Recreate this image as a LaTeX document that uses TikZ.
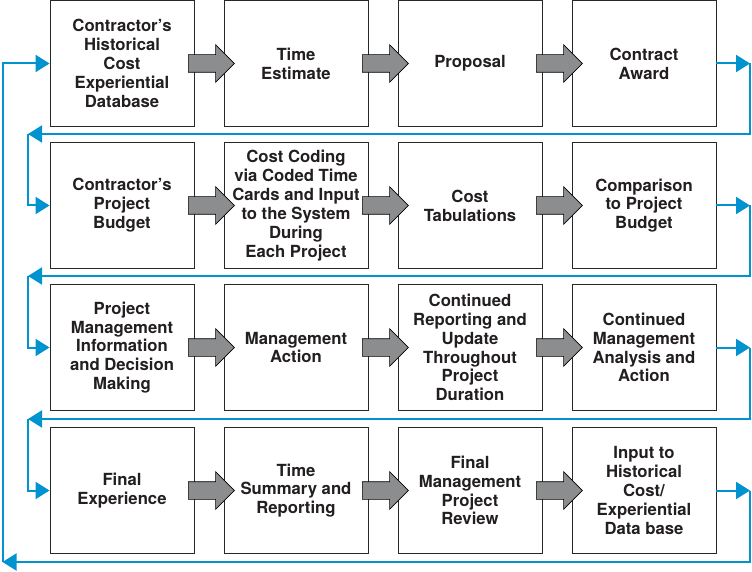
\documentclass[tikz,border=0pt]{standalone}
\usepackage{fontspec}
\setmainfont{TeX Gyre Heros}
\usetikzlibrary{arrows.meta,shapes.arrows,calc}
\definecolor{flowblue}{RGB}{0,147,208}
\definecolor{arrgray}{RGB}{140,141,143}
\definecolor{txt}{RGB}{35,31,32}
\definecolor{boxline}{RGB}{40,40,40}
\begin{document}
\begin{tikzpicture}[x=1pt,y=-1pt,
  stepbox/.style={draw=boxline, line width=0.9pt, fill=white, minimum width=144pt,
    minimum height=126pt, inner sep=0pt, align=center, text=txt,
    font=\fontsize{16.7}{18.9}\selectfont\bfseries},
  blockarr/.style={single arrow, draw=black, line width=0.6pt, fill=arrgray,
    minimum height=46pt, minimum width=37pt, single arrow head extend=10pt,
    single arrow tip angle=90, inner xsep=0pt, inner ysep=8.5pt},
  flow/.style={draw=flowblue, line width=2pt, -{Triangle[length=14pt,width=17pt]}}]
\useasboundingbox (0,0) rectangle (752,572);
% row 1
\node[stepbox] (a1) at (122,63.5) {Contractor’s\\Historical\\Cost\\Experiential\\Database};
\node[stepbox] (a2) at (296,63.5) {Time\\Estimate};
\node[stepbox] (a3) at (470,63.5) {Proposal};
\node[stepbox] (a4) at (644,63.5) {Contract\\Award};
% row 2
\node[stepbox] (b1) at (122,205.5) {Contractor’s\\Project\\Budget};
\node[stepbox] (b2) at (296,205.5) {Cost Coding\\via Coded Time\\Cards and Input\\to the System\\During\\Each Project};
\node[stepbox] (b3) at (470,205.5) {Cost\\Tabulations};
\node[stepbox] (b4) at (644,205.5) {Comparison\\to Project\\Budget};
% row 3
\node[stepbox] (c1) at (122,347.5) {Project\\Management\\Information\\and Decision\\Making};
\node[stepbox] (c2) at (296,347.5) {Management\\Action};
\node[stepbox] (c3) at (470,347.5) {Continued\\Reporting and\\Update\\Throughout\\Project\\Duration};
\node[stepbox] (c4) at (644,347.5) {Continued\\Management\\Analysis and\\Action};
% row 4
\node[stepbox] (d1) at (122,490.5) {Final\\Experience};
\node[stepbox] (d2) at (296,490.5) {Time\\Summary and\\Reporting};
\node[stepbox] (d3) at (470,490.5) {Final\\Management\\Project\\Review};
\node[stepbox] (d4) at (644,490.5) {Input to\\Historical\\Cost/\\Experiential\\Data base};
% block arrows
\foreach \r in {a,b,c,d}{
  \node[blockarr] (\r12) at ($(\r1.east)!0.5!(\r2.west)+(-2,0)$) {};
  \node[blockarr] (\r23) at ($(\r2.east)!0.5!(\r3.west)+(-2,0)$) {};
  \node[blockarr] (\r34) at ($(\r3.east)!0.5!(\r4.west)+(-2,0)$) {};
}
% blue flow
\coordinate (ea) at (750,63.5);
\coordinate (eb) at (750,205.5);
\coordinate (ec) at (750,347.5);
\coordinate (ed) at (750,490.5);
\coordinate (ta) at (28,134);
\coordinate (tb) at (28,276);
\coordinate (tc) at (28,419);
\coordinate (td) at (2.5,562);
\draw[flow] (a4.east) -- (ea);
\draw[flow] (ea) |- (ta);
\draw[flow] (ta) |- (b1.west);
\draw[flow] (b4.east) -- (eb);
\draw[flow] (eb) |- (tb);
\draw[flow] (tb) |- (c1.west);
\draw[flow] (c4.east) -- (ec);
\draw[flow] (ec) |- (tc);
\draw[flow] (tc) |- (d1.west);
\draw[flow] (d4.east) -- (ed);
\draw[flow] (ed) |- (td);
\draw[flow] (td) |- (a1.west);
\end{tikzpicture}
\end{document}
